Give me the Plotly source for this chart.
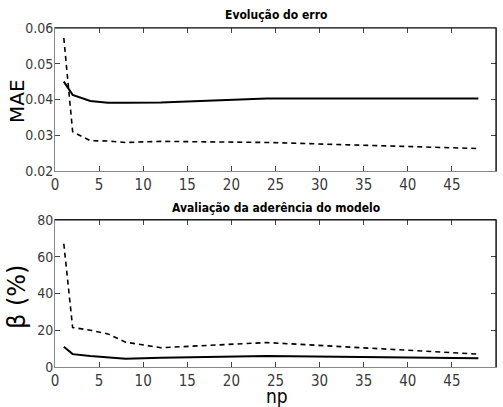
import plotly.graph_objects as go
from plotly.subplots import make_subplots

np_vals = [1, 2, 4, 6, 8, 12, 24, 48]
mae_solid = [0.0450, 0.0413, 0.0396, 0.0391, 0.0391, 0.0392, 0.0403, 0.0403]
mae_dash = [0.0572, 0.0310, 0.0285, 0.0284, 0.0280, 0.0283, 0.0280, 0.0263]
beta_solid = [11.0, 7.0, 6.0, 5.2, 4.5, 5.0, 6.0, 4.8]
beta_dash = [67.0, 21.5, 20.0, 18.0, 13.5, 10.5, 13.3, 7.0]

TF = "DejaVu Sans Condensed"
TICKF = "Liberation Sans Narrow, DejaVu Sans Condensed"

fig = make_subplots(rows=2, cols=1, vertical_spacing=0.14)
fig.add_trace(go.Scatter(x=np_vals, y=mae_solid, mode="lines",
                         line=dict(color="black", width=2)), row=1, col=1)
fig.add_trace(go.Scatter(x=np_vals, y=mae_dash, mode="lines",
                         line=dict(color="black", width=1.6, dash="5px,4px")), row=1, col=1)
fig.add_trace(go.Scatter(x=np_vals, y=beta_solid, mode="lines",
                         line=dict(color="black", width=2)), row=2, col=1)
fig.add_trace(go.Scatter(x=np_vals, y=beta_dash, mode="lines",
                         line=dict(color="black", width=1.6, dash="5px,4px")), row=2, col=1)

axis_common = dict(showgrid=False, zeroline=False, showline=True, linecolor="#888888",
                   linewidth=1, mirror="ticks", ticks="inside", ticklen=5,
                   tickcolor="#444444")

fig.update_xaxes(range=[0, 50], dtick=5,
                 tickfont=dict(family=TICKF, size=15, color="#3a3a3a"), **axis_common)
fig.update_yaxes(tickfont=dict(family=TICKF, size=14, color="#3a3a3a"),
                 ticklabelstandoff=-2, **axis_common)
fig.update_yaxes(range=[0.02, 0.06], dtick=0.01, tickformat=".2f", row=1, col=1,
                 domain=[0.578, 1])
fig.update_yaxes(range=[0, 80], dtick=20, row=2, col=1, domain=[0, 0.434])

# black top/right frame edges
for xr, yr in (("x domain", "y domain"), ("x2 domain", "y2 domain")):
    fig.add_shape(type="line", xref=xr, yref=yr, x0=0, x1=1, y0=1, y1=1,
                  line=dict(color="black", width=1.2), layer="above")
    fig.add_shape(type="line", xref=xr, yref=yr, x0=1, x1=1, y0=0, y1=1,
                  line=dict(color="black", width=1.2), layer="above")

fig.add_annotation(text="<b>Evolução do erro</b>", x=0.5, y=1.0, xref="paper", yref="paper",
                   xanchor="center", yanchor="bottom", yshift=4, showarrow=False,
                   font=dict(family=TF, size=12, color="black"))
fig.add_annotation(text="<b>Avaliação da aderência do modelo</b>", x=0.5, y=0.434,
                   xref="paper", yref="paper", xanchor="center", yanchor="bottom", yshift=3,
                   showarrow=False, font=dict(family=TF, size=12, color="black"))

# axis titles (positions in pixels, converted below)
fig.add_annotation(text="MAE", x=17, y=101, xref="paper", yref="paper", showarrow=False,
                   xanchor="center", yanchor="middle",
                   textangle=-90, font=dict(family="DejaVu Sans", size=20, color="black"))
fig.add_annotation(text="β (%)", x=17, y=297, xref="paper", yref="paper", showarrow=False,
                   xanchor="center", yanchor="middle",
                   textangle=-90, font=dict(family="DejaVu Sans", size=24, color="black"))
fig.add_annotation(text="np", x=277, y=396, xref="paper", yref="paper", showarrow=False,
                   xanchor="center", yanchor="middle", borderpad=0,
                   font=dict(family=TF, size=19, color="black"))

fig.update_layout(width=503, height=407, showlegend=False,
                  margin=dict(l=55, r=7, t=28, b=40),
                  plot_bgcolor="white", paper_bgcolor="white")

W, H = 503, 407
l, r, t, b = 55, 7, 28, 40
pw, ph = W - l - r, H - t - b
for ann in fig.layout.annotations[2:]:
    px, py = ann.x, ann.y
    ann.x = (px - l) / pw
    ann.y = (H - b - py) / ph

fig.write_html("out.html")
